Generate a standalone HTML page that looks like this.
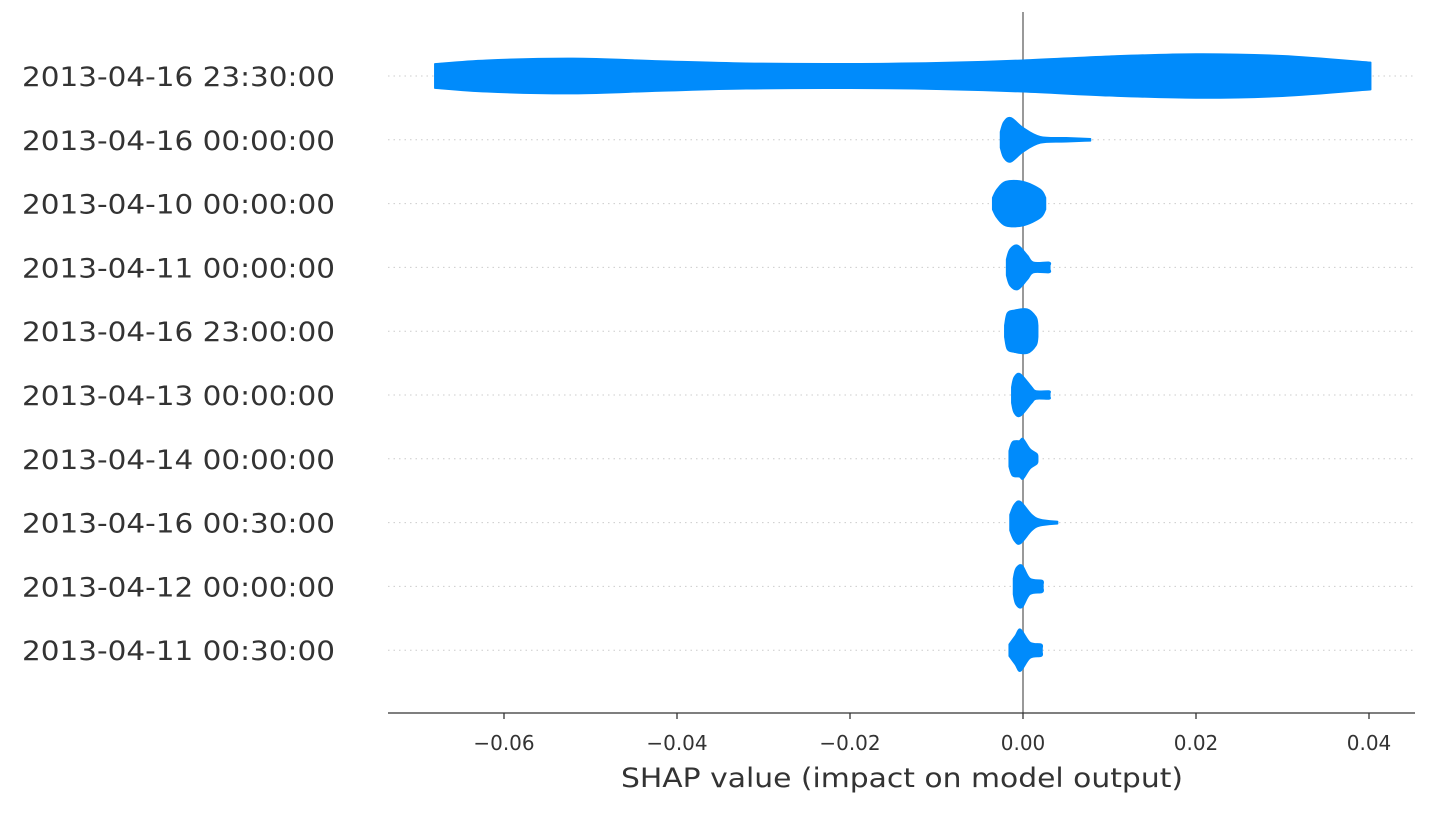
<!DOCTYPE html>
<html><head><meta charset="utf-8"><style>
body{margin:0;background:#fff;}
svg{display:block;font-family:"DejaVu Sans","Liberation Sans",sans-serif;}
</style></head><body>
<svg id="chart" width="1442" height="820" viewBox="0 0 1442 820"></svg>
<script>
const features = ["2013-04-16 23:30:00","2013-04-16 00:00:00","2013-04-10 00:00:00","2013-04-11 00:00:00","2013-04-16 23:00:00","2013-04-13 00:00:00","2013-04-14 00:00:00","2013-04-16 00:30:00","2013-04-12 00:00:00","2013-04-11 00:30:00"];
const tickValues = [-0.06,-0.04,-0.02,0.00,0.02,0.04];
const tickLabels = ["\u22120.06","\u22120.04","\u22120.02","0.00","0.02","0.04"];
// shap values along each violin
const shapVals = [
 [-0.068,-0.062,-0.052,-0.042,-0.032,-0.02,-0.01,0,0.01,0.02,0.03,0.0402],
 [-0.0026,-0.0022,-0.0014,0,0.002,0.005,0.0078],
 [-0.0035,-0.003,-0.002,0,0.002,0.0026],
 [-0.0019,-0.0015,-0.0006,0.0005,0.0012,0.003,0.0031],
 [-0.0021,-0.0018,-0.001,0.0005,0.0015,0.0017],
 [-0.0013,-0.001,-0.0003,0.001,0.0015,0.003,0.0031],
 [-0.0016,-0.0012,-0.0004,0,0.0008,0.0016,0.0017],
 [-0.0015,-0.001,-0.0003,0.001,0.002,0.004],
 [-0.0011,-0.0008,-0.0001,0.0008,0.0022,0.0023],
 [-0.0016,-0.0009,-0.0003,0.0008,0.0021,0.0022]
];
// relative density (0..1) at each value
const densities = [
 [0.55,0.72,0.8,0.68,0.58,0.56,0.6,0.72,0.9,1.0,0.92,0.62],
 [0.36,0.82,1.0,0.55,0.14,0.09,0.05],
 [0.27,0.64,1.0,1.0,0.64,0.27],
 [0.36,0.82,1.0,0.55,0.23,0.23,0.09],
 [0.27,0.82,0.95,1.0,0.64,0.27],
 [0.36,0.82,0.95,0.36,0.18,0.18,0.09],
 [0.36,0.77,0.82,0.91,0.45,0.23,0.09],
 [0.36,0.82,0.95,0.36,0.14,0.05],
 [0.36,0.82,0.95,0.36,0.27,0.09],
 [0.27,0.64,0.95,0.36,0.27,0.09]
];
const NS="http://www.w3.org/2000/svg";
const svg=document.getElementById('chart');
const X0=388,X1=1415,AXY=713;
const xs=v=>1023+v*8650;
const rowY=i=>76+i*63.8;
const MAXH=22;
function mk(t,a){const e=document.createElementNS(NS,t);for(const k in a)e.setAttribute(k,a[k]);svg.appendChild(e);return e;}
function smooth(pts){
 let s='';
 for(let i=0;i<pts.length-1;i++){
  const p0=pts[Math.max(i-1,0)],p1=pts[i],p2=pts[i+1],p3=pts[Math.min(i+2,pts.length-1)];
  const c1=[p1[0]+(p2[0]-p0[0])/6,p1[1]+(p2[1]-p0[1])/6];
  const c2=[p2[0]-(p3[0]-p1[0])/6,p2[1]-(p3[1]-p1[1])/6];
  s+='C'+c1[0].toFixed(1)+','+c1[1].toFixed(1)+' '+c2[0].toFixed(1)+','+c2[1].toFixed(1)+' '+p2[0].toFixed(1)+','+p2[1].toFixed(1);
 }
 return s;
}
features.forEach((f,i)=>{
 const y=rowY(i);
 const g=mk('line',{x1:X0,x2:X1,y1:y,y2:y,stroke:'#ccc','stroke-width':1,'stroke-dasharray':'1.5 4'});
 
 
 const t=mk('text',{x:335,y:y+10,'text-anchor':'end','font-size':27,fill:'#333',textLength:313,lengthAdjust:'spacingAndGlyphs'});
 t.textContent=f;
 
 
});
const z=mk('line',{x1:xs(0),x2:xs(0),y1:12,y2:AXY,stroke:'#999','stroke-width':2});


features.forEach((f,i)=>{
 const y=rowY(i),v=shapVals[i],d=densities[i];
 const top=v.map((val,j)=>[xs(val),y-d[j]*MAXH]);
 const bot=v.map((val,j)=>[xs(val),y+d[j]*MAXH]).reverse();
 const p='M'+top[0][0].toFixed(1)+','+top[0][1].toFixed(1)+smooth(top)+'L'+bot[0][0].toFixed(1)+','+bot[0][1].toFixed(1)+smooth(bot)+'Z';
 const e=mk('path',{d:p,fill:'#008bfb',stroke:'#008bfb','stroke-width':1.5,'stroke-linejoin':'round'});
 
 
});
const ax=mk('line',{x1:X0,x2:X1,y1:AXY,y2:AXY,stroke:'#333','stroke-width':1.3});


tickValues.forEach((v,i)=>{
 const tk=mk('line',{x1:xs(v),x2:xs(v),y1:AXY,y2:AXY+6,stroke:'#333','stroke-width':1.3});
 
 
 const t=mk('text',{x:xs(v),y:AXY+37,'text-anchor':'middle','font-size':20,fill:'#333'});
 t.textContent=tickLabels[i];
 
 
});
const ti=mk('text',{x:902,y:787,'text-anchor':'middle','font-size':27,fill:'#333',textLength:562,lengthAdjust:'spacingAndGlyphs'});
ti.textContent='SHAP value (impact on model output)';


</script>
</body></html>
